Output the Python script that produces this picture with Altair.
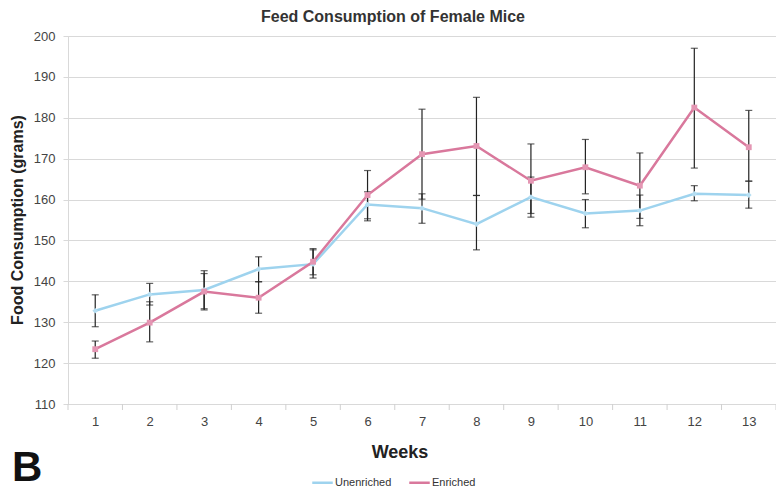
import altair as alt
import pandas as pd

weeks = list(range(1, 14))
unenriched = [132.8, 136.8, 137.9, 143.0, 144.2, 158.8, 157.9, 154.0, 160.6, 156.6, 157.3, 161.4, 161.1]
unenriched_lo = [128.9, 134.2, 133.3, 139.9, 140.8, 154.8, 154.2, 147.7, 155.7, 153.1, 153.6, 159.7, 157.9]
unenriched_hi = [136.7, 139.5, 142.6, 146.0, 148.0, 161.9, 161.4, 161.0, 165.5, 160.0, 161.1, 163.4, 164.5]
enriched = [123.4, 129.9, 137.5, 136.0, 144.8, 161.1, 171.1, 173.1, 164.6, 167.9, 163.4, 182.5, 172.8]
enriched_lo = [121.2, 125.2, 133.0, 132.2, 141.6, 155.3, 160.1, 161.0, 156.6, 161.4, 155.4, 167.7, 164.5]
enriched_hi = [125.4, 135.0, 141.9, 139.9, 147.7, 167.1, 182.1, 185.0, 173.6, 174.7, 171.4, 197.0, 181.8]
series = ["Unenriched", "Enriched"]
colors = ["#9ed3ee", "#d9789c"]
marker_fill = ["#b5def2", "#e496b3"]
y_ticks = list(range(110, 201, 10))
band_edges = [w + 0.5 for w in range(0, 14)]

rows = []
for i, w in enumerate(weeks):
    rows.append({"week": w, "series": "Unenriched", "value": unenriched[i],
                 "lo": unenriched_lo[i], "hi": unenriched_hi[i]})
for i, w in enumerate(weeks):
    rows.append({"week": w, "series": "Enriched", "value": enriched[i],
                 "lo": enriched_lo[i], "hi": enriched_hi[i]})
df = pd.DataFrame(rows)

FONT = "Liberation Sans Narrow, Liberation Sans, Arial, sans-serif"
BOLD = "Liberation Sans, Arial, sans-serif"

xscale = alt.Scale(domain=[0.5, 13.5], nice=False, zero=False)
yscale = alt.Scale(domain=[110, 200], nice=False, zero=False)

base = alt.Chart(df)

x_enc = alt.X("week:Q", scale=xscale,
              axis=alt.Axis(values=weeks, ticks=False, grid=False, domain=False,
                            labelFontSize=13, labelColor="#444444", labelFont=FONT,
                            labelPadding=11, title=None, format="d"))
y_enc = alt.Y("value:Q", scale=yscale,
              axis=alt.Axis(values=y_ticks, grid=True, gridColor="#d9d9d9",
                            domainColor="#d9d9d9", tickColor="#d9d9d9", tickSize=5,
                            labelFontSize=13, labelColor="#444444", labelFont=FONT,
                            labelPadding=8, title=None))

color_enc = alt.Color("series:N", scale=alt.Scale(domain=series, range=colors),
                      legend=alt.Legend(orient="none", legendX=243, legendY=435,
                                        direction="horizontal", title=None,
                                        symbolType="stroke", symbolSize=420,
                                        symbolStrokeWidth=2.5, labelFontSize=11,
                                        labelFont=FONT, labelColor="#333333",
                                        columnPadding=12, labelOffset=1))

err_rule = base.mark_rule(color="#222222", strokeWidth=1.2).encode(
    x=x_enc, y=alt.Y("lo:Q", scale=yscale), y2="hi:Q")
cap_lo = base.mark_tick(color="#222222", thickness=1.2, size=7, orient="horizontal").encode(
    x="week:Q", y=alt.Y("lo:Q", scale=yscale))
cap_hi = base.mark_tick(color="#222222", thickness=1.2, size=7, orient="horizontal").encode(
    x="week:Q", y=alt.Y("hi:Q", scale=yscale))

lines = base.mark_line(strokeWidth=2.5).encode(
    x=x_enc, y=y_enc, color=color_enc,
    order=alt.Order("week:Q"), detail="series:N")

pts_u = base.transform_filter(alt.datum.series == series[0]).mark_point(
    filled=True, size=32, opacity=1, shape="diamond", color=marker_fill[0]
).encode(x="week:Q", y="value:Q")
pts_e = base.transform_filter(alt.datum.series == series[1]).mark_point(
    filled=True, size=34, opacity=1, shape="square", color=marker_fill[1]
).encode(x="week:Q", y="value:Q")

ticks_df = pd.DataFrame({"edge": band_edges})
xticks = alt.Chart(ticks_df).mark_rule(color="#d0d0d0", strokeWidth=1).encode(
    x=alt.X("edge:Q", scale=xscale), y=alt.value(368), y2=alt.value(374))

title_t = alt.Chart(pd.DataFrame({"t": ["Feed Consumption of Female Mice"]})).mark_text(
    font=BOLD, fontSize=16, fontWeight="bold", color="#333333", align="center", baseline="top"
).encode(text="t:N", x=alt.value(325), y=alt.value(-27))
ytitle_t = alt.Chart(pd.DataFrame({"t": ["Food Consumption (grams)"]})).mark_text(
    font=BOLD, fontSize=16, fontWeight="bold", color="#222222", align="center",
    baseline="middle", angle=270
).encode(text="t:N", x=alt.value(-50), y=alt.value(184))
xtitle_t = alt.Chart(pd.DataFrame({"t": ["Weeks"]})).mark_text(
    font=BOLD, fontSize=18, fontWeight="bold", color="#222222", align="center", baseline="middle"
).encode(text="t:N", x=alt.value(332), y=alt.value(417))
b_t = alt.Chart(pd.DataFrame({"t": ["B"]})).mark_text(
    font=BOLD, fontSize=42, fontWeight="bold", color="#111111", align="left", baseline="alphabetic"
).encode(text="t:N", x=alt.value(-56), y=alt.value(445))

chart = alt.layer(
    xticks, err_rule, cap_lo, cap_hi, lines, pts_u, pts_e, title_t, ytitle_t, xtitle_t, b_t
).properties(
    width=708, height=368,
    autosize=alt.AutoSizeParams(type="none"),
    padding={"left": 60, "top": 28, "right": 0, "bottom": 87},
).configure_view(stroke=None).configure(background="white")

chart.save("out.html", embed_options={"renderer": "svg", "actions": False})
